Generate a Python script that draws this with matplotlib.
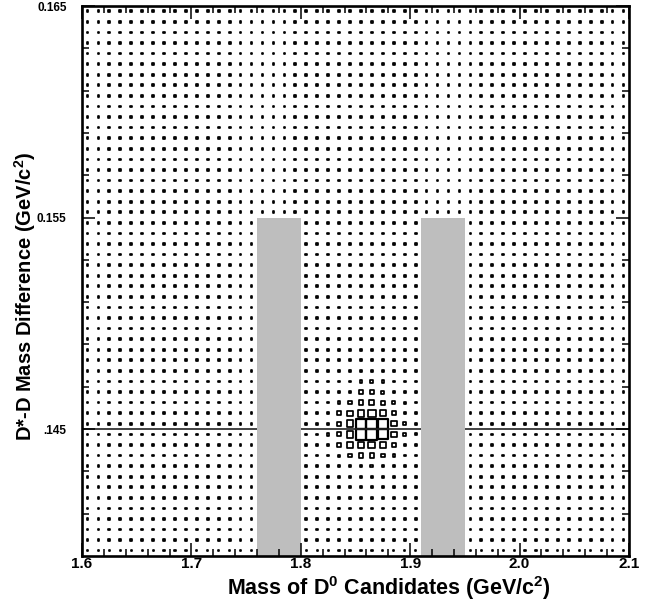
import numpy as np
import matplotlib
matplotlib.use("Agg")
import matplotlib.pyplot as plt
from matplotlib.patches import Rectangle
from matplotlib.collections import PatchCollection

plt.rcParams['font.family'] = ['Liberation Sans', 'DejaVu Sans']
plt.rcParams['font.weight'] = 'bold'
plt.rcParams['mathtext.fontset'] = 'custom'
plt.rcParams['mathtext.rm'] = 'Liberation Sans:bold'
plt.rcParams['mathtext.it'] = 'Liberation Sans:bold'
plt.rcParams['mathtext.bf'] = 'Liberation Sans:bold'

# ---- data ----
x_range = (1.6, 2.1)          # D0 candidate mass (GeV/c^2)
y_range = (0.139, 0.165)      # D*-D mass difference (GeV/c^2)
n_xbins = 50
n_ybins = 52
bkg_level = 2.5               # typical background content per cell
bottom_row_level = 1.2        # lowest delta-m row
count_norm = 100.0            # content that would fill a whole cell

# signal region: rows (bin index from bottom) 16..8, columns 22..30
peak_rows = [16, 15, 14, 13, 12, 11, 10, 9, 8]
peak_cols = [22, 23, 24, 25, 26, 27, 28, 29, 30]
peak_counts = [
    [2.5, 2.5, 3, 7, 7, 5, 2.5, 2.5, 2.5],
    [2.5, 3, 5, 12, 14, 8, 3, 2.5, 2.5],
    [2.5, 5, 12, 20, 22, 15, 6, 3, 2.5],
    [3, 12, 26, 40, 44, 30, 11, 3, 2.5],
    [5, 16, 40, 100, 100, 90, 25, 7, 3],
    [5, 16, 40, 100, 100, 90, 25, 7, 3],
    [3, 12, 24, 40, 40, 25, 10, 3, 2.5],
    [2.5, 3.5, 12, 17, 17, 10, 5, 2.5, 2.5],
    [2.5, 2.5, 3, 7, 7, 5, 2.5, 2.5, 2.5],
]

sideband_x = [(1.76, 1.80), (1.91, 1.95)]
sideband_top = 0.155
signal_dm = 0.145

x_ticklabels = ["1.6", "1.7", "1.8", "1.9", "2.0", "2.1"]
x_tickvals = [1.6, 1.7, 1.8, 1.9, 2.0, 2.1]
y_tickvals = [0.145, 0.155, 0.165]
y_ticklabels = [".145", "0.155", "0.165"]

# ---- histogram ----
H = np.full((n_ybins, n_xbins), bkg_level)
H[0, :] = bottom_row_level
for r, row in zip(peak_rows, peak_counts):
    for c, v in zip(peak_cols, row):
        H[r, c] = v

xedges = np.linspace(x_range[0], x_range[1], n_xbins + 1)
yedges = np.linspace(y_range[0], y_range[1], n_ybins + 1)
dx = xedges[1] - xedges[0]
dy = yedges[1] - yedges[0]

fig = plt.figure(figsize=(6.52, 6.02), dpi=100)
ax = fig.add_axes([82/652, 1 - 556/602, (629-82)/652, (556-6)/602])

rects = []
lws = []
for j in range(n_ybins):
    for i in range(n_xbins):
        f = min(np.sqrt(H[j, i] / count_norm), 1.0)
        cx = 0.5 * (xedges[i] + xedges[i+1])
        cy = 0.5 * (yedges[j] + yedges[j+1])
        w = f * dx
        h = f * dy
        rects.append(Rectangle((cx - w/2, cy - h/2), w, h))
        lws.append(1.6 if f > 0.8 else 1.25)
pc = PatchCollection(rects, facecolor='none', edgecolor='black', linewidths=lws, zorder=1.5)
ax.add_collection(pc)

ax.axhline(signal_dm, color='#222222', lw=1.2, zorder=1.8)
for (x0, x1) in sideband_x:
    ax.add_patch(Rectangle((x0, y_range[0]), x1 - x0, sideband_top - y_range[0],
                           facecolor='#bebebe', edgecolor='none', zorder=2))

ax.set_xlim(*x_range)
ax.set_ylim(*y_range)
ax.set_axisbelow(False)
for s in ax.spines.values():
    s.set_linewidth(1.9)
    s.set_zorder(3)

ax.set_xticks(x_tickvals)
ax.set_xticklabels(x_ticklabels, fontsize=11, fontweight='bold')
ax.set_xticks(np.arange(1.62, 2.1, 0.02), minor=True)
ax.set_yticks(y_tickvals)
ax.set_yticklabels(y_ticklabels, fontsize=8.5, fontweight='bold')
ax.set_yticks(np.arange(0.141, 0.1645, 0.002), minor=True)
ax.tick_params(which='both', direction='in', top=True, right=True, width=1.1)
ax.tick_params(which='major', length=9.5)
ax.tick_params(which='minor', length=5)
ax.tick_params(axis='x', which='major', pad=1)
ax.tick_params(axis='y', which='major', pad=11)

fig.text(389/652, 1 - 588/602, r"Mass of D$^{0}$ Candidates (GeV/c$^{2}$)",
         ha='center', va='center', fontsize=15.5, fontweight='bold')
fig.text(25/652, 1 - 296/602, r"D*-D Mass Difference (GeV/c$^{2}$)",
         ha='center', va='center', rotation=90, fontsize=14.5, fontweight='bold')

fig.savefig("out.png", dpi=100)
